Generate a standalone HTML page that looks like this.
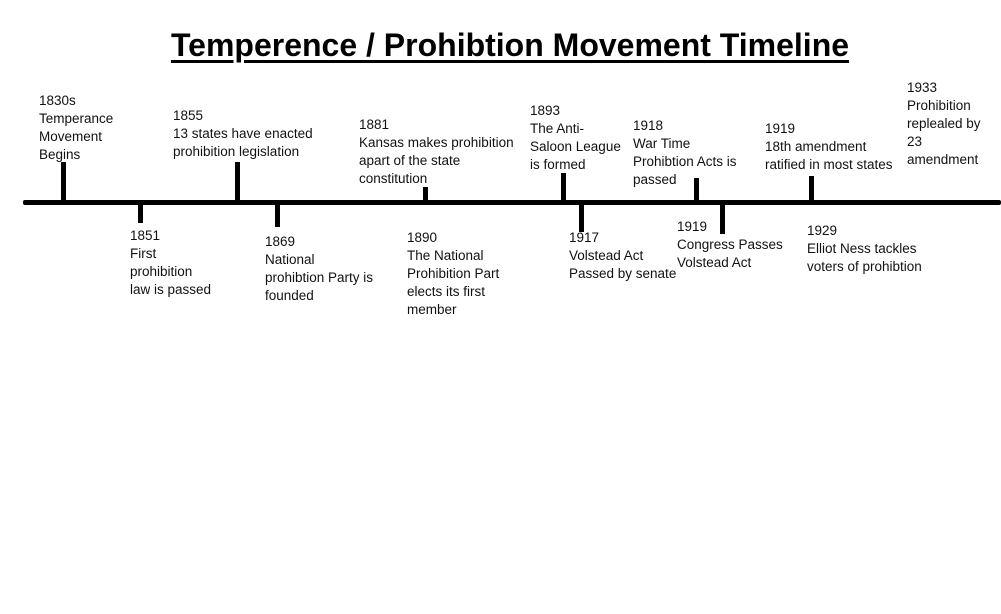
<!DOCTYPE html>
<html><head><meta charset="utf-8"><style>
body{margin:0;width:1001px;height:614px;background:#fff;position:relative;overflow:hidden;font-family:"Liberation Sans",sans-serif;}
.t{position:absolute;font-size:13.5px;line-height:18px;white-space:nowrap;color:#111;}
.h{position:absolute;top:27px;left:0;width:1020px;text-align:center;font-weight:bold;font-size:32px;text-decoration:underline;text-decoration-thickness:3px;text-underline-offset:4px;}
.k{position:absolute;background:#000;width:5px;}
</style></head><body>
<div class="h">Temperence / Prohibtion Movement Timeline</div>
<div style="position:absolute;left:23px;top:200px;width:978px;height:5px;background:#000;border-radius:2px"></div>
<div class="k" style="left:61px;top:162px;height:40px"></div>
<div class="k" style="left:138px;top:202px;height:21px"></div>
<div class="k" style="left:235px;top:162px;height:40px"></div>
<div class="k" style="left:275px;top:202px;height:25px"></div>
<div class="k" style="left:423px;top:187px;height:15px"></div>
<div class="k" style="left:561px;top:173px;height:29px"></div>
<div class="k" style="left:579px;top:202px;height:30px"></div>
<div class="k" style="left:694px;top:178px;height:24px"></div>
<div class="k" style="left:720px;top:202px;height:32px"></div>
<div class="k" style="left:809px;top:176px;height:26px"></div>

<div class="t" style="left:39px;top:92px">1830s<br>Temperance<br>Movement<br>Begins</div>
<div class="t" style="left:130px;top:227px">1851<br>First<br>prohibition<br>law is passed</div>
<div class="t" style="left:173px;top:107px">1855<br>13 states have enacted<br>prohibition legislation</div>
<div class="t" style="left:265px;top:233px">1869<br>National<br>prohibtion Party is<br>founded</div>
<div class="t" style="left:359px;top:116px">1881<br>Kansas makes prohibition<br>apart of the state<br>constitution</div>
<div class="t" style="left:407px;top:229px">1890<br>The National<br>Prohibition Part<br>elects its first<br>member</div>
<div class="t" style="left:530px;top:102px">1893<br>The Anti-<br>Saloon League<br>is formed</div>
<div class="t" style="left:569px;top:229px">1917<br>Volstead Act<br>Passed by senate</div>
<div class="t" style="left:633px;top:117px">1918<br>War Time<br>Prohibtion Acts is<br>passed</div>
<div class="t" style="left:677px;top:218px">1919<br>Congress Passes<br>Volstead Act</div>
<div class="t" style="left:765px;top:120px">1919<br>18th amendment<br>ratified in most states</div>
<div class="t" style="left:807px;top:222px">1929<br>Elliot Ness tackles<br>voters of prohibtion</div>
<div class="t" style="left:907px;top:79px">1933<br>Prohibition<br>replealed by<br>23<br>amendment</div>
</body></html>
